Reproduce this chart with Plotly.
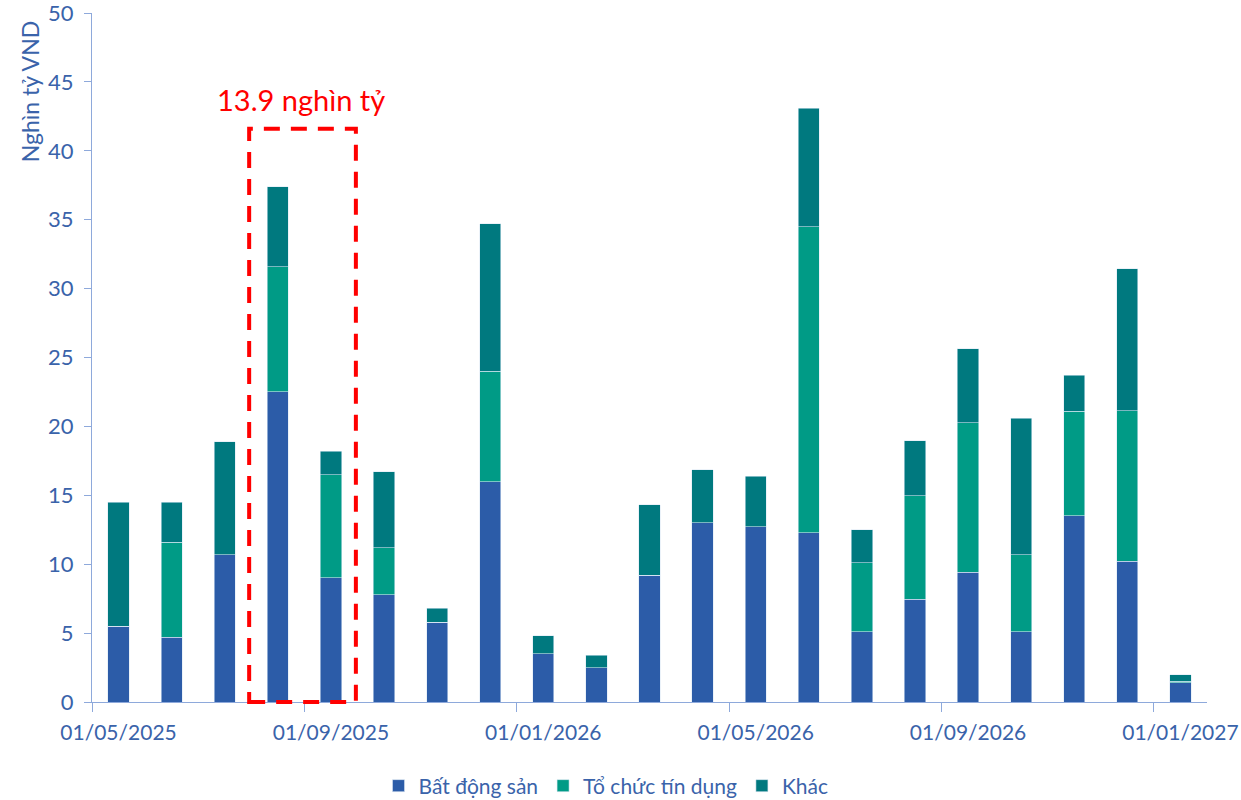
import plotly.graph_objects as go

# Monthly maturities, thousand billion VND
months = ["01/05/2025", "01/06/2025", "01/07/2025", "01/08/2025", "01/09/2025",
          "01/10/2025", "01/11/2025", "01/12/2025", "01/01/2026", "01/02/2026",
          "01/03/2026", "01/04/2026", "01/05/2026", "01/06/2026", "01/07/2026",
          "01/08/2026", "01/09/2026", "01/10/2026", "01/11/2026", "01/12/2026",
          "01/01/2027"]
bat_dong_san = [5.5, 4.7, 10.7, 22.5, 9.0, 7.8, 5.8, 16.0, 3.5, 2.5, 9.2,
                13.0, 12.7, 12.3, 5.1, 7.45, 9.4, 5.1, 13.5, 10.2, 1.38]
to_chuc_tin_dung = [0, 6.9, 0, 9.1, 7.5, 3.4, 0, 8.0, 0, 0, 0,
                    0, 0, 22.2, 5.0, 7.5, 10.85, 5.6, 7.6, 10.95, 0.12]
khac = [9.0, 2.9, 8.2, 5.8, 1.7, 5.5, 1.0, 10.7, 1.3, 0.9, 5.1,
        3.85, 3.7, 8.6, 2.4, 4.0, 5.4, 9.9, 2.6, 10.3, 0.48]
series_names = ["Bất động sản", "Tổ chức tín dụng", "Khác"]
highlight_months = ["01/08/2025", "01/09/2025"]
highlight_label = "13.9 nghìn tỷ"
highlight_top = 41.6
y_ticks = [0, 5, 10, 15, 20, 25, 30, 35, 40, 45, 50]
y_max = y_ticks[-1]

colors = ["#2C5CA8", "#009B86", "#00797F"]
text_color = "#3A63AA"
axis_color = "#8EA9DB"
font_family = "Lato, 'Open Sans', sans-serif"

x_idx = list(range(len(months)))
label_idx = x_idx[::4]

fig = go.Figure()
for name, vals, col in zip(series_names, [bat_dong_san, to_chuc_tin_dung, khac], colors):
    fig.add_trace(go.Bar(
        x=x_idx, y=vals, name=name,
        marker=dict(color=col, line=dict(color="rgba(220,232,245,0.7)", width=0.8)),
    ))

# Dashed frame around the highlighted months (paper y so the bottom edge sits on the axis)
i0 = months.index(highlight_months[0])
i1 = months.index(highlight_months[-1])
fig.add_shape(type="rect", xref="x", yref="paper",
              x0=i0 - 0.54, x1=i1 + 0.47, y0=0, y1=highlight_top / y_max,
              line=dict(color="#FF0000", width=4, dash="16px,11px"),
              fillcolor="rgba(0,0,0,0)")
fig.add_annotation(x=(i0 + i1) / 2 - 0.06, y=highlight_top + 2.1, xref="x", yref="y",
                   text=highlight_label, showarrow=False,
                   font=dict(color="#FF0000", size=29, family=font_family),
                   yanchor="middle")

# Axis title near the top of the value axis
fig.add_annotation(x=-0.0556, y=0.885, xref="paper", yref="paper",
                   text="Nghìn tỷ VND", textangle=-90, showarrow=False,
                   font=dict(size=23, color=text_color, family=font_family),
                   xanchor="center", yanchor="middle")

fig.update_layout(
    width=1241, height=800,
    margin=dict(l=92, r=34, t=13, b=98, autoexpand=False),
    barmode="stack", bargap=0.6,
    plot_bgcolor="white", paper_bgcolor="white",
    font=dict(family=font_family, color=text_color, size=20),
    legend=dict(orientation="h", x=0.461, xanchor="center",
                yref="container", y=0.0175, yanchor="middle",
                font=dict(size=21, color=text_color), itemwidth=30,
                traceorder="normal"),
    showlegend=True,
)
fig.update_xaxes(
    range=[-0.5, len(months) - 0.5], automargin=False,
    tickmode="array", tickvals=label_idx, ticktext=[months[i] for i in label_idx],
    ticks="", showline=True, linecolor=axis_color, linewidth=1.3,
    showgrid=False, zeroline=False, ticklabelstandoff=12,
    tickfont=dict(size=21, color=text_color),
    minor=dict(tickmode="array", tickvals=[i - 0.5 for i in label_idx],
               ticks="outside", ticklen=9, tickcolor=axis_color, tickwidth=1.3,
               showgrid=False),
)
fig.update_yaxes(
    range=[0, y_max], tickmode="array", tickvals=y_ticks,
    ticks="outside", ticklen=7, tickcolor=axis_color, tickwidth=1.3,
    showline=True, linecolor=axis_color, linewidth=1.3, automargin=False,
    showgrid=False, zeroline=False, ticklabelstandoff=6, ticklabeloverflow="allow",
    tickfont=dict(size=22, color=text_color),
)

fig.write_html("out.html")
